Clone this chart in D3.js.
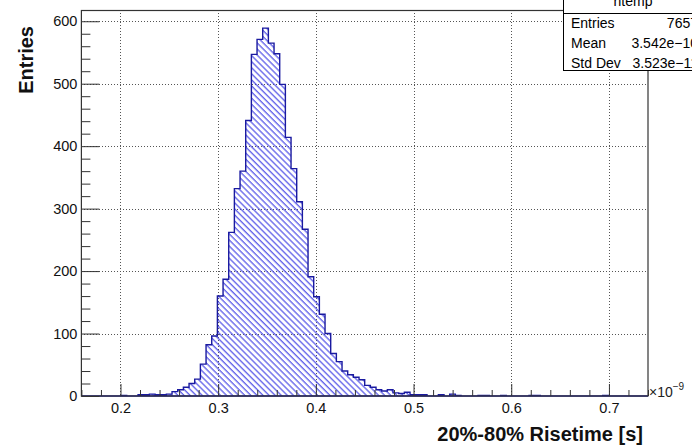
<!DOCTYPE html>
<html>
<head>
<meta charset="utf-8">
<script src="https://cdn.jsdelivr.net/npm/d3@7/dist/d3.min.js"></script>
<style>
  html, body { margin: 0; padding: 0; background: #fff; }
  svg { display: block; font-family: "Liberation Sans", Arial, Helvetica, sans-serif; }
</style>
</head>
<body>
<svg id="chart" width="692" height="446"></svg>
<script>
// ---- data ----
const xMin = 0.16, xMax = 0.74, nBins = 100;
const counts = [
  0,0,0,0,0,0,0,1,0,0,
  2,2,3,2,2,3,7,10,14,20,
  27,51,82,96,160,187,262,332,360,441,
  547,571,589,565,548,499,414,364,311,267,
  191,159,131,100,68,55,40,34,30,26,
  17,14,10,8,10,5,4,6,2,2,
  2,0,0,2,0,3,1,0,0,0,
  1,1,0,0,1,0,0,0,0,1,
  1,0,0,0,0,0,0,0,0,0,
  0,0,1,0,0,0,0,0,0,0
];
const xTickValues = [0.2, 0.3, 0.4, 0.5, 0.6, 0.7];
const xTickLabels = ["0.2", "0.3", "0.4", "0.5", "0.6", "0.7"];
const yTickValues = [0, 100, 200, 300, 400, 500, 600];
const yTickLabels = ["0", "100", "200", "300", "400", "500", "600"];
const statsTitle = "htemp";
const statsNames = ["Entries", "Mean", "Std Dev"];
const statsValues = ["7657", "3.542e\u221210", "3.523e\u221211"];
const xTitle = "20%-80% Risetime [s]";
const yTitle = "Entries";

// ---- layout ----
const svg = d3.select("#chart");
const L = 81.4, R = 648, T = 10, B = 396;
const binW = (xMax - xMin) / nBins;
const yMax = 618;

const x = d3.scaleLinear().domain([xMin, xMax]).range([L, R]);
const y = d3.scaleLinear().domain([0, yMax]).range([B, T]);

// hatch pattern
const defs = svg.append("defs");
const pat = defs.append("pattern")
  .attr("id", "hatch")
  .attr("patternUnits", "userSpaceOnUse")
  .attr("width", 4.3).attr("height", 4.3)
  .attr("patternTransform", "rotate(-45)");
pat.append("line")
  .attr("x1", 1).attr("y1", 0).attr("x2", 1).attr("y2", 4.3)
  .attr("stroke", "#4747e6").attr("stroke-width", 1.15);

// grid
const grid = svg.append("g").attr("stroke", "#555").attr("stroke-width", 1)
  .attr("stroke-dasharray", "1,2").attr("shape-rendering", "crispEdges");
xTickValues.forEach(v => {
  grid.append("line").attr("x1", Math.round(x(v)) + 0.5).attr("x2", Math.round(x(v)) + 0.5)
    .attr("y1", T).attr("y2", B);
});
yTickValues.filter(v => v > 0).forEach(v => {
  grid.append("line").attr("y1", Math.round(y(v)) + 0.5).attr("y2", Math.round(y(v)) + 0.5)
    .attr("x1", L).attr("x2", R);
});

// histogram
let pathD = "M" + x(xMin) + "," + y(0);
counts.forEach((c, i) => {
  const x0 = x(xMin + i * binW), x1 = x(xMin + (i + 1) * binW);
  pathD += "L" + x0 + "," + y(c) + "L" + x1 + "," + y(c);
});
pathD += "L" + x(xMax) + "," + y(0) + "Z";
svg.append("path").attr("d", pathD).attr("fill", "url(#hatch)")
  .attr("stroke", "#1a1aa0").attr("stroke-width", 1.4).attr("stroke-linejoin", "miter");

// axes
const tickColor = "#333";
const xMinor = d3.range(0.16, 0.7401, 0.02).filter(v => !xTickValues.some(t => Math.abs(t - v) < 1e-6));
const yMinor = d3.range(0, 601, 20).filter(v => v % 100 !== 0);

const xAxis = d3.axisBottom(x).tickValues(xTickValues)
  .tickFormat((d, i) => xTickLabels[i]).tickSizeInner(-12).tickSizeOuter(0).tickPadding(7);
const gx = svg.append("g").attr("transform", `translate(0,${B})`).call(xAxis);
const gxm = svg.append("g").attr("transform", `translate(0,${B})`)
  .call(d3.axisBottom(x).tickValues(xMinor).tickFormat("").tickSizeInner(-6).tickSizeOuter(0));

const yAxis = d3.axisLeft(y).tickValues(yTickValues)
  .tickFormat((d, i) => yTickLabels[i]).tickSizeInner(-18).tickSizeOuter(0).tickPadding(4);
const gy = svg.append("g").attr("transform", `translate(${L},0)`).call(yAxis);
const gym = svg.append("g").attr("transform", `translate(${L},0)`)
  .call(d3.axisLeft(y).tickValues(yMinor).tickFormat("").tickSizeInner(-9).tickSizeOuter(0));

[gx, gxm, gy, gym].forEach(g => {
  g.select(".domain").remove();
  g.selectAll("line").attr("stroke", tickColor).attr("stroke-width", 1);
  g.selectAll("text").attr("fill", "#111").style("font-size", "14.5px")
    .style("font-family", "'Liberation Sans', Arial, sans-serif");
});

// frame
svg.append("rect").attr("x", L).attr("y", T + 0.5).attr("width", R - L).attr("height", B - T - 0.5)
  .attr("fill", "none").attr("stroke", "#333").attr("stroke-width", 1.2);

// exponent label
const ex = svg.append("text").attr("x", 649).attr("y", 397).attr("fill", "#222")
  .style("font-size", "14px");
ex.append("tspan").text("\u00d710");
ex.append("tspan").attr("dy", -7).style("font-size", "10px").text("\u22129");

// axis titles
svg.append("text").attr("x", 643).attr("y", 441).attr("text-anchor", "end")
  .style("font-size", "20px").style("font-weight", "bold").attr("fill", "#111").text(xTitle);
svg.append("text").attr("transform", "translate(33,26) rotate(-90)").attr("text-anchor", "end")
  .style("font-size", "20px").style("font-weight", "bold").attr("fill", "#111").text(yTitle);

// stats box
const sb = svg.append("g");
sb.append("rect").attr("x", 563.5).attr("y", -20).attr("width", 200).attr("height", 33.5)
  .attr("fill", "#fff").attr("stroke", "#000").attr("stroke-width", 1);
sb.append("rect").attr("x", 563.5).attr("y", 13.5).attr("width", 200).attr("height", 57)
  .attr("fill", "#fff").attr("stroke", "#000").attr("stroke-width", 1);
sb.append("text").attr("x", 633).attr("y", 6).attr("text-anchor", "middle")
  .style("font-size", "14px").attr("fill", "#000").text(statsTitle);
statsNames.forEach((n, i) => {
  sb.append("text").attr("x", 571).attr("y", 28 + i * 20).style("font-size", "14px")
    .attr("fill", "#000").text(n);
  sb.append("text").attr("x", 698).attr("y", 28 + i * 20).attr("text-anchor", "end")
    .style("font-size", "14px").attr("fill", "#000").text(statsValues[i]);
});
</script>
</body>
</html>
